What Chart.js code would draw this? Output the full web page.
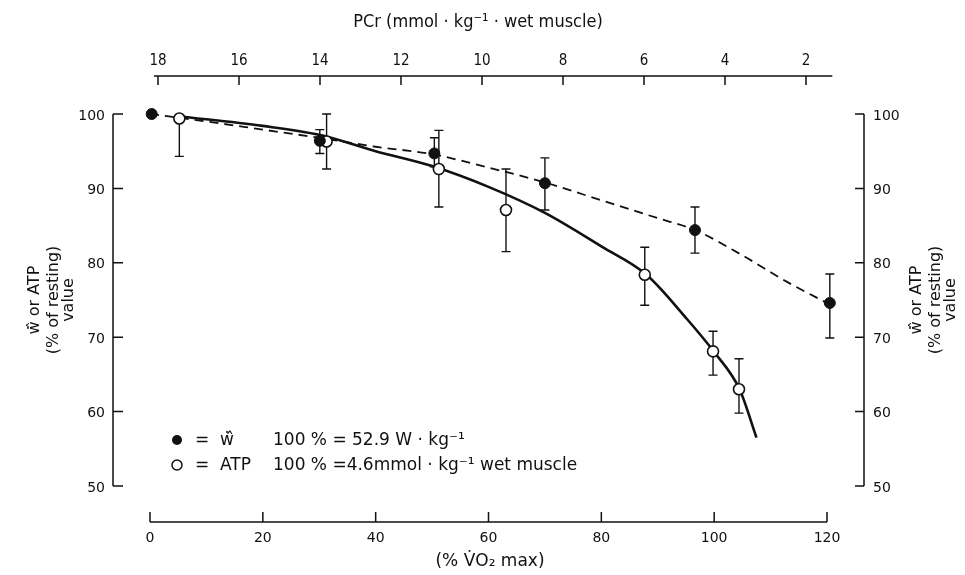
<!DOCTYPE html>
<html>
<head>
<meta charset="utf-8">
<script src="https://cdn.jsdelivr.net/npm/chart.js@4.4.1/dist/chart.umd.min.js"></script>
<style>
  html, body { margin: 0; padding: 0; background: #fff; }
  #wrap { width: 965px; height: 575px; }
</style>
</head>
<body>
<div id="wrap"><canvas id="chart" width="965" height="575"></canvas></div>
<script>
// ---- data ----
// filled circles: w-hat (power output), % of resting value
const wX  = [0.3, 30.1, 50.4, 70.0, 96.6, 120.5];
const wY  = [100, 96.4, 94.7, 90.7, 84.4, 74.6];
const wLo = [null, 94.7, 92.9, 87.1, 81.3, 69.9];
const wHi = [null, 97.9, 96.8, 94.1, 87.5, 78.5];

// open circles: ATP, % of resting value
const atpX  = [5.2, 31.3, 51.2, 63.1, 87.7, 99.8, 104.4];
const atpY  = [99.4, 96.3, 92.6, 87.1, 78.4, 68.1, 63.0];
const atpLo = [94.3, 92.6, 87.5, 81.5, 74.3, 64.9, 59.8];
const atpHi = [null, 100, 97.8, 92.6, 82.1, 70.8, 67.1];

// hand-drawn fit curves
const atpCurveX = [5, 20, 30, 40, 50, 60, 70, 80, 88, 95, 100, 104.5, 107.5];
const atpCurveY = [99.7, 98.4, 97.2, 95.0, 93.0, 90.2, 86.7, 82.2, 78.4, 72.6, 68.0, 63.0, 56.5];
const wCurveX = [0, 10, 20, 30, 40, 50, 60, 70, 80, 90, 96.6, 105, 113, 120.5];
const wCurveY = [100, 99.0, 97.9, 96.8, 95.6, 94.6, 92.8, 90.8, 88.4, 86.0, 84.4, 81.0, 77.4, 74.4];

// axes
const xTicks = [0, 20, 40, 60, 80, 100, 120];
const yTicks = [50, 60, 70, 80, 90, 100];
const pcrTicks = [18, 16, 14, 12, 10, 8, 6, 4, 2];
const pcrRange = [1.35, 18.1];   // drawn extent of the top axis line

const toPts = (xs, ys) => xs.map((x, i) => ({ x: x, y: ys[i] }));

const W = '\u0077\u0307\u0302';   // w with dot and hat

const FONT = '"DejaVu Sans", "Noto Sans", sans-serif';

function text(ctx, s, x, y, font, align, narrow) {
    ctx.font = font;
    ctx.fontStretch = narrow ? 'condensed' : 'normal';
    ctx.textAlign = align || 'center';
    ctx.textBaseline = 'middle';
    ctx.fillText(s, x, y);
}

// error bars, drawn under the markers
const errorBars = {
    id: 'errorBars',
    beforeDatasetsDraw(chart) {
        const { ctx, scales: { x, y } } = chart;
        ctx.save();
        ctx.strokeStyle = '#111';
        ctx.lineWidth = 1.4;
        const draw = (xs, ys, lo, hi) => {
            xs.forEach((v, i) => {
                const px = x.getPixelForValue(v);
                [lo[i], hi[i]].forEach(e => {
                    if (e === null) return;
                    const p0 = y.getPixelForValue(ys[i]);
                    const p1 = y.getPixelForValue(e);
                    ctx.beginPath();
                    ctx.moveTo(px, p0); ctx.lineTo(px, p1);
                    ctx.moveTo(px - 4.5, p1); ctx.lineTo(px + 4.5, p1);
                    ctx.stroke();
                });
            });
        };
        draw(wX, wY, wLo, wHi);
        draw(atpX, atpY, atpLo, atpHi);
        ctx.restore();
    }
};

// axes lines, ticks, labels and the key
const frame = {
    id: 'frame',
    afterDraw(chart) {
        const { ctx, scales: { x, y, pcr } } = chart;
        const left = 113, right = 864, bottom = 522, top = 76;
        const yTop = y.getPixelForValue(100), yBot = y.getPixelForValue(50);
        ctx.save();
        ctx.strokeStyle = '#111';
        ctx.fillStyle = '#111';
        ctx.lineWidth = 1.5;

        // left and right value axes
        ctx.beginPath();
        ctx.moveTo(left, yTop); ctx.lineTo(left, yBot);
        ctx.moveTo(right, yTop); ctx.lineTo(right, yBot);
        yTicks.forEach(t => {
            const py = y.getPixelForValue(t);
            ctx.moveTo(left, py); ctx.lineTo(left + 10, py);
            ctx.moveTo(right, py); ctx.lineTo(right - 9, py);
        });
        ctx.stroke();
        yTicks.forEach(t => {
            const py = y.getPixelForValue(t);
            text(ctx, String(t), 105, py + 2, '14px ' + FONT, 'right');
            text(ctx, String(t), 873, py + 2, '14px ' + FONT, 'left');
        });

        // bottom axis
        ctx.beginPath();
        ctx.moveTo(x.getPixelForValue(0), bottom);
        ctx.lineTo(x.getPixelForValue(120), bottom);
        xTicks.forEach(t => {
            const px = x.getPixelForValue(t);
            ctx.moveTo(px, bottom); ctx.lineTo(px, bottom - 10);
        });
        ctx.stroke();
        xTicks.forEach(t => text(ctx, String(t), x.getPixelForValue(t), 538, '14px ' + FONT));
        text(ctx, '(% V\u0307O\u2082 max)', 490, 562, '17px ' + FONT);

        // top PCr axis
        ctx.beginPath();
        ctx.moveTo(pcr.getPixelForValue(pcrRange[1]), top);
        ctx.lineTo(pcr.getPixelForValue(pcrRange[0]), top);
        pcrTicks.forEach(t => {
            const px = pcr.getPixelForValue(t);
            ctx.moveTo(px, top); ctx.lineTo(px, top + 9);
        });
        ctx.stroke();
        pcrTicks.forEach(t => text(ctx, String(t), pcr.getPixelForValue(t), 61, '15px ' + FONT, 'center', true));
        text(ctx, 'PCr (mmol \u00b7 kg\u207b\u00b9 \u00b7 wet muscle)', 478, 22, '18px ' + FONT, 'center', true);

        // rotated y titles
        const yTitle = (cx, cy) => {
            ctx.save();
            ctx.translate(cx, cy);
            ctx.rotate(-Math.PI / 2);
            text(ctx, W + ' or ATP', 0, 0, '16px ' + FONT);
            text(ctx, '(% of resting)', 0, 19, '16px ' + FONT);
            text(ctx, 'value', 0, 34, '16px ' + FONT);
            ctx.restore();
        };
        yTitle(35, 300);
        yTitle(917, 300);

        // key
        ctx.beginPath();
        ctx.arc(177, 440, 5, 0, Math.PI * 2);
        ctx.fill();
        ctx.beginPath();
        ctx.fillStyle = '#fff';
        ctx.arc(177, 465, 5, 0, Math.PI * 2);
        ctx.fill();
        ctx.stroke();
        ctx.fillStyle = '#111';
        text(ctx, '=', 202, 441, '17px ' + FONT);
        text(ctx, W, 227, 441, '17px ' + FONT);
        text(ctx, '100 % = 52.9 W \u00b7 kg\u207b\u00b9', 273, 441, '17px ' + FONT, 'left');
        text(ctx, '=', 202, 466, '17px ' + FONT);
        text(ctx, 'ATP', 220, 466, '17px ' + FONT, 'left');
        text(ctx, '100 % =4.6mmol \u00b7 kg\u207b\u00b9 wet muscle', 273, 466, '17px ' + FONT, 'left');
        ctx.restore();
    }
};

const ctx = document.getElementById('chart').getContext('2d');
const chart = new Chart(ctx, {
    type: 'scatter',
    data: {
        datasets: [
            {
                label: 'w',
                data: toPts(wX, wY),
                pointRadius: 5.5,
                pointBackgroundColor: '#111',
                pointBorderColor: '#111',
                pointBorderWidth: 1,
                showLine: false
            },
            {
                label: 'ATP',
                data: toPts(atpX, atpY),
                pointRadius: 5.5,
                pointBackgroundColor: '#fff',
                pointBorderColor: '#111',
                pointBorderWidth: 1.6,
                showLine: false
            },
            {
                label: 'ATP fit',
                data: toPts(atpCurveX, atpCurveY),
                showLine: true,
                pointRadius: 0,
                borderColor: '#111',
                borderWidth: 2.6,
                cubicInterpolationMode: 'monotone'
            },
            {
                label: 'w fit',
                data: toPts(wCurveX, wCurveY),
                showLine: true,
                pointRadius: 0,
                borderColor: '#111',
                borderWidth: 1.8,
                borderDash: [9, 6],
                cubicInterpolationMode: 'monotone'
            }
        ]
    },
    options: {
        responsive: false,
        animation: false,
        devicePixelRatio: 1,
        layout: { padding: { left: 113, right: 101, top: 76, bottom: 53 } },
        plugins: { legend: { display: false }, tooltip: { enabled: false } },
        scales: {
            x: { type: 'linear', display: false, min: -6.558, max: 126.558 },
            y: { type: 'linear', display: false, min: 45.161, max: 105.108 },
            pcr: { type: 'linear', axis: 'x', position: 'top', display: false,
                   reverse: true, min: 0.568, max: 19.111 }
        }
    },
    plugins: [errorBars, frame]
});
</script>
</body>
</html>
